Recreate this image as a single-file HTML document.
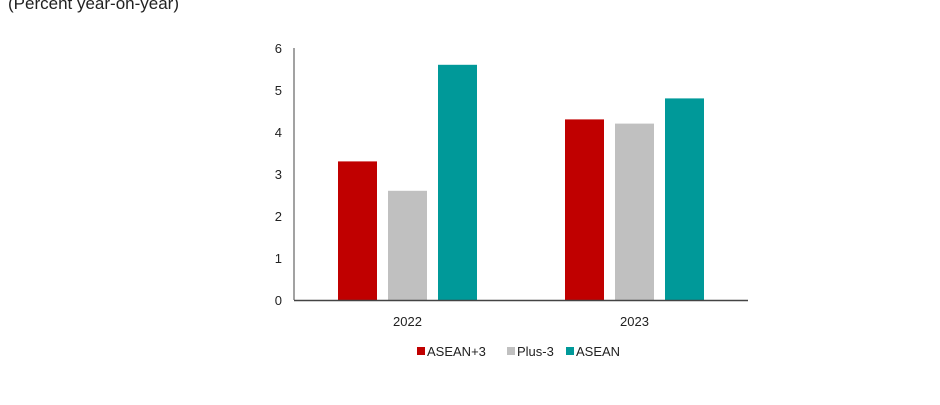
<!DOCTYPE html>
<html><head><meta charset="utf-8"><style>
body{margin:0;background:#fff;width:940px;height:400px;overflow:hidden;font-family:"Liberation Sans",Arial,sans-serif}
</style></head><body>
<svg id="c" width="940" height="400">
<text x="8" y="9" font-size="17" fill="#222">(Percent year-on-year)</text>
</svg>
<script>
const categories=["2022","2023"];
const seriesNames=["ASEAN+3","Plus-3","ASEAN"];
const asean3=[3.3,4.3];
const plus3=[2.6,4.2];
const asean=[5.6,4.8];
const yTicks=[0,1,2,3,4,5,6];
const colors=["#c00000","#c0c0c0","#009999"];
const svg=document.getElementById('c');
const NS="http://www.w3.org/2000/svg";
const x0=294,x1=748,yb=300,yt=48,ymax=6;
const y=v=>yb-(v/ymax)*(yb-yt);
const groupW=(x1-x0)/categories.length;
const barW=39,step=50;
function mk(t,a){const e=document.createElementNS(NS,t);for(const k in a)e.setAttribute(k,a[k]);svg.appendChild(e);return e;}
yTicks.forEach(t=>{const e=mk('text',{x:x0-12,y:y(t)+5,'font-size':13,'text-anchor':'end',fill:'#222'});e.textContent=t;

});
const series=[asean3,plus3,asean];
categories.forEach((c,i)=>{const cx=x0+groupW*(i+0.5);
series.forEach((s,j)=>{const bx=cx-barW/2+(j-1)*step;
const r=mk('rect',{x:bx,y:y(s[i]),width:barW,height:yb-y(s[i]),fill:colors[j]});

});
const t=mk('text',{x:cx,y:yb+26,'font-size':13,'text-anchor':'middle',fill:'#222'});t.textContent=c;

});
const ya=mk('line',{x1:x0,y1:yt,x2:x0,y2:yb,stroke:'#444','stroke-width':1});


const xa=mk('line',{x1:x0,y1:yb+0.5,x2:x1,y2:yb+0.5,stroke:'#444','stroke-width':1.5});


const lx=[417,507,566];
seriesNames.forEach((n,j)=>{const r=mk('rect',{x:lx[j],y:347,width:8,height:8,fill:colors[j]});


const t=mk('text',{x:lx[j]+10,y:356,'font-size':13,fill:'#222'});t.textContent=n;

});
</script>
</body></html>
